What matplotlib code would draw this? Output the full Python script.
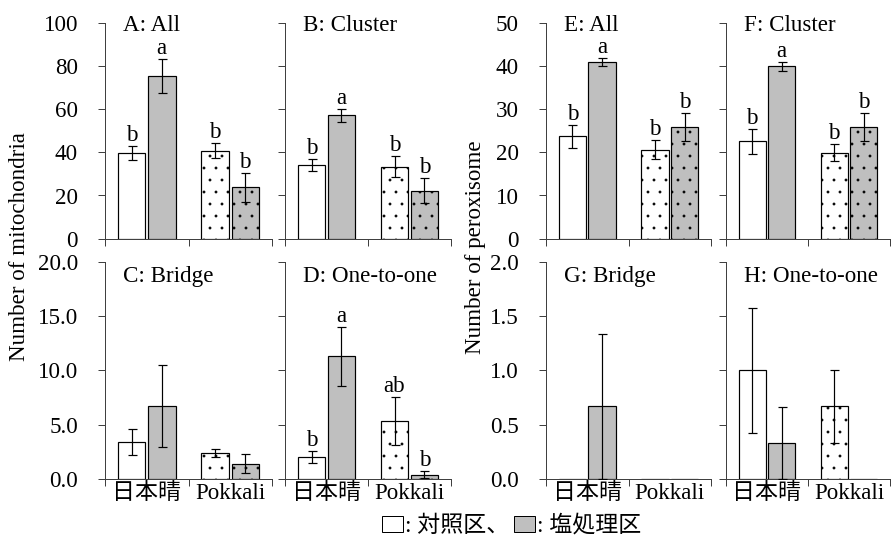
import numpy as np
import matplotlib
matplotlib.use('Agg')
import matplotlib.pyplot as plt
from matplotlib.patches import Patch

plt.rcParams['font.family'] = ['Liberation Serif', 'Noto Sans CJK JP']
plt.rcParams['font.size'] = 23
plt.rcParams['hatch.linewidth'] = 0.3
plt.rcParams['hatch.color'] = '#333333'

# order in each panel: 日本晴 control, 日本晴 salt, Pokkali control, Pokkali salt
cultivars = ['日本晴', 'Pokkali']
legend_labels = [': 対照区、', ': 塩処理区']

A_mean = [39.5, 75.2, 40.8, 23.8]
A_err = [3.2, 7.8, 3.5, 6.7]
A_sig = ['b', 'a', 'b', 'b']

B_mean = [34.3, 57.1, 33.4, 22.2]
B_err = [2.8, 2.9, 5.0, 5.8]
B_sig = ['b', 'a', 'b', 'b']

C_mean = [3.38, 6.72, 2.37, 1.38]
C_err = [1.2, 3.75, 0.34, 0.9]
C_sig = ['', '', '', '']

D_mean = [2.03, 11.32, 5.35, 0.37]
D_err = [0.55, 2.72, 2.2, 0.35]
D_sig = ['b', 'a', 'ab', 'b']

E_mean = [23.7, 40.9, 20.6, 25.9]
E_err = [2.7, 0.95, 2.15, 3.2]
E_sig = ['b', 'a', 'b', 'b']

F_mean = [22.6, 39.9, 19.9, 25.9]
F_err = [2.9, 1.0, 2.0, 3.2]
F_sig = ['b', 'a', 'b', 'b']

G_mean = [0, 0.667, 0, 0]
G_err = [0, 0.667, 0, 0]
G_sig = ['', '', '', '']

H_mean = [1.0, 0.333, 0.667, 0]
H_err = [0.58, 0.333, 0.333, 0]
H_sig = ['', '', '', '']

W, H = 891, 540
fig = plt.figure(figsize=(W / 72, H / 72), dpi=72)

axcol = '#404040'
gray = '#bfbfbf'


def px_axes(x0, x1, y0, y1):
    return fig.add_axes([x0 / W, 1 - y1 / H, (x1 - x0) / W, (y1 - y0) / H])


def draw_panel(ax, mean, err, sig, title, ymax, ystep, fmt, show_y, show_x, title_y):
    xs = [-0.18, 0.18, 0.82, 1.18]
    colors = ['white', gray, 'white', gray]
    hatches = [None, None, '.', '.']
    for xi, m, e, c, h, s in zip(xs, mean, err, colors, hatches, sig):
        bars = ax.bar(xi, m, width=0.33, color=c, edgecolor='black', linewidth=1.2,
                      hatch=h, zorder=2)
        for b in bars:
            if hasattr(b, 'set_hatchcolor'):
                b.set_hatchcolor('#333333')
        if e > 0:
            ax.errorbar(xi, m, yerr=e, fmt='none', ecolor='black', elinewidth=1.2,
                        capsize=4.5, capthick=1.2, zorder=3)
        if s:
            ax.annotate(s, (xi, m + e), xytext=(0, 5), textcoords='offset points',
                        ha='center', va='baseline')
    ax.set_xlim(-0.5, 1.5)
    ax.set_ylim(0, ymax)
    for sp in ['top', 'right']:
        ax.spines[sp].set_visible(False)
    for sp in ['left', 'bottom']:
        ax.spines[sp].set_color(axcol)
        ax.spines[sp].set_linewidth(1.0)
    ax.set_xticks([0, 1])
    ax.set_xticklabels(cultivars if show_x else ['', ''])
    ax.set_xticks([-0.5, 0.5, 1.5], minor=True)
    ax.tick_params(axis='x', which='major', length=0, pad=4)
    ax.tick_params(axis='x', which='minor', length=7, width=1.0, color=axcol, direction='out')
    ticks = np.arange(0, ymax + ystep / 2, ystep)
    ax.set_yticks(ticks)
    ax.set_yticklabels([fmt % t for t in ticks] if show_y else [''] * len(ticks))
    ax.tick_params(axis='y', length=7, width=1.0, color=axcol, direction='out', pad=20)
    ax.text(0.11, title_y, title, transform=ax.transAxes, ha='left', va='center')


top = (22.7, 238.7)
bot = (262, 478.7)
cols = [(105, 272), (285, 451), (546, 711), (726, 890)]

draw_panel(px_axes(*cols[0], *top), A_mean, A_err, A_sig, 'A: All', 100, 20, '%d', True, False, 0.985)
draw_panel(px_axes(*cols[1], *top), B_mean, B_err, B_sig, 'B: Cluster', 100, 20, '%d', False, False, 0.985)
draw_panel(px_axes(*cols[0], *bot), C_mean, C_err, C_sig, 'C: Bridge', 20, 5, '%.1f', True, True, 0.935)
draw_panel(px_axes(*cols[1], *bot), D_mean, D_err, D_sig, 'D: One-to-one', 20, 5, '%.1f', False, True, 0.935)
draw_panel(px_axes(*cols[2], *top), E_mean, E_err, E_sig, 'E: All', 50, 10, '%d', True, False, 0.985)
draw_panel(px_axes(*cols[3], *top), F_mean, F_err, F_sig, 'F: Cluster', 50, 10, '%d', False, False, 0.985)
draw_panel(px_axes(*cols[2], *bot), G_mean, G_err, G_sig, 'G: Bridge', 2, 0.5, '%.1f', True, True, 0.935)
draw_panel(px_axes(*cols[3], *bot), H_mean, H_err, H_sig, 'H: One-to-one', 2, 0.5, '%.1f', False, True, 0.935)

fig.text(20 / W, 1 - 247 / H, 'Number of mitochondria', rotation=90, ha='center', va='center')
fig.text(475 / W, 1 - 247 / H, 'Number of peroxisome', rotation=90, ha='center', va='center')

handles = [Patch(facecolor='white', edgecolor='black', linewidth=1.0),
           Patch(facecolor=gray, edgecolor='black', linewidth=1.0)]
fig.legend(handles, legend_labels, loc='center', bbox_to_anchor=(512 / W, 1 - 526 / H),
           ncol=2, frameon=False, handlelength=0.9, handleheight=0.75,
           handletextpad=0.1, columnspacing=0.2, borderpad=0, borderaxespad=0)

fig.savefig('out.png', dpi=72)
